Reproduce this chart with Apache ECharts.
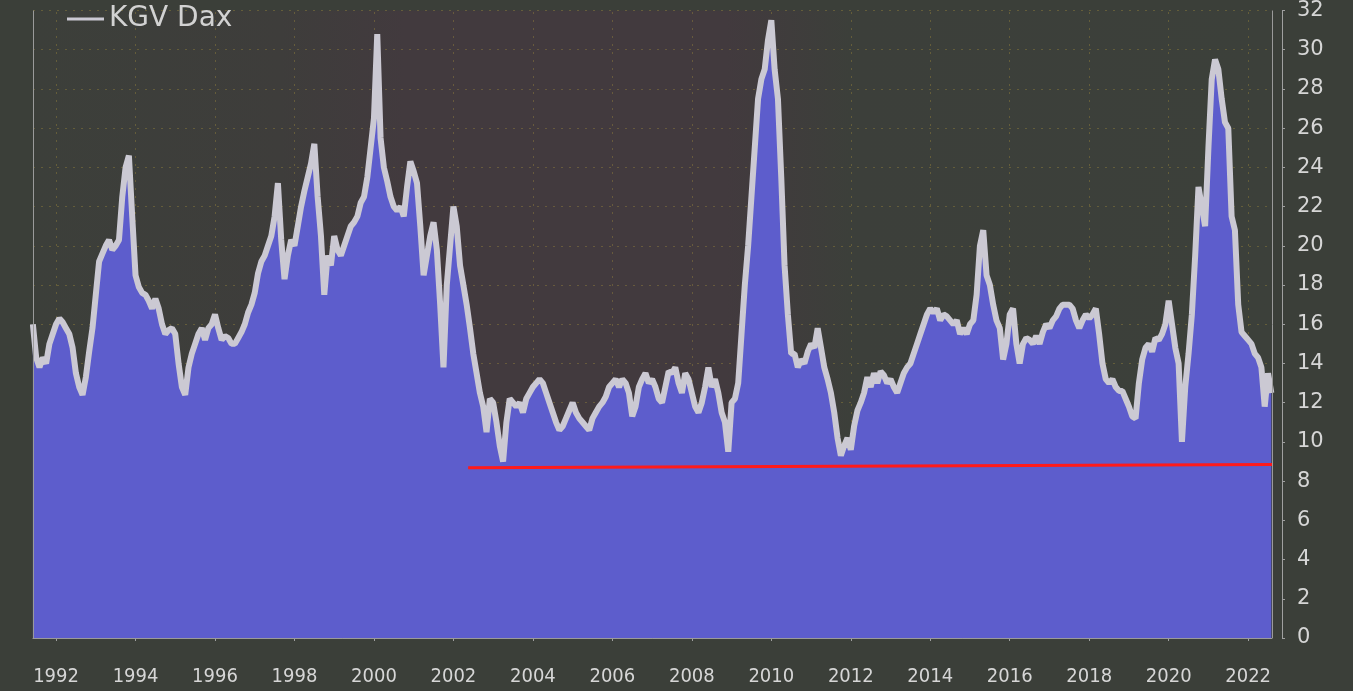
<!DOCTYPE html>
<html>
<head>
<meta charset="utf-8">
<script src="https://cdn.jsdelivr.net/npm/echarts@6/dist/echarts.min.js"></script>
<style>
html, body { margin: 0; padding: 0; background: #3b3f39; }
#chart { width: 1353px; height: 691px; }
</style>
</head>
<body>
<div id="chart"></div>
<script>
// KGV Dax, Monatswerte ab Juni 1991
var firstYear = 1991, firstMonth = 6;
var kgv = [
  16.0, 14.3, 13.8, 14.3, 14.0, 15.0, 15.5,                                 // 1991
  16.0, 16.3, 16.1, 15.8, 15.5, 14.8, 13.5, 12.8, 12.4, 13.3, 14.6, 15.8,  // 1992
  17.5, 19.2, 19.6, 20.0, 20.3, 19.8, 20.0, 20.3, 22.5, 24.0, 24.6, 21.5,  // 1993
  18.5, 17.9, 17.6, 17.5, 17.2, 16.8, 17.3, 16.8, 16.0, 15.5, 15.7, 15.8,  // 1994
  15.5, 14.0, 12.8, 12.4, 13.8, 14.5, 15.0, 15.5, 15.8, 15.2, 15.8, 16.0,  // 1995
  16.5, 15.8, 15.2, 15.4, 15.3, 15.0, 15.0, 15.3, 15.6, 16.0, 16.6, 17.0,  // 1996
  17.6, 18.6, 19.2, 19.5, 20.0, 20.5, 21.5, 23.2, 20.3, 18.3, 19.5, 20.3,  // 1997
  20.0, 21.0, 22.0, 22.8, 23.5, 24.2, 25.2, 22.5, 20.5, 17.5, 19.5, 19.0,  // 1998
  20.5, 19.8, 19.5, 20.0, 20.5, 21.0, 21.2, 21.5, 22.2, 22.5, 23.5, 25.0,  // 1999
  26.5, 30.8, 25.5, 24.0, 23.3, 22.5, 22.0, 21.8, 22.0, 21.5, 23.0, 24.3,  // 2000
  23.8, 23.2, 21.0, 18.5, 19.5, 20.5, 21.2, 19.8, 17.0, 13.8, 18.0, 20.0,  // 2001
  22.0, 21.0, 19.0, 18.0, 17.0, 15.8, 14.5, 13.5, 12.5, 11.8, 10.5, 12.2,  // 2002
  12.0, 11.0, 9.8, 9.0, 11.0, 12.2, 12.0, 11.8, 12.0, 11.5, 12.2, 12.5,    // 2003
  12.8, 13.0, 13.2, 13.0, 12.5, 12.0, 11.5, 11.0, 10.6, 10.8, 11.2, 11.6,  // 2004
  12.0, 11.5, 11.2, 11.0, 10.8, 10.6, 11.2, 11.5, 11.8, 12.0, 12.3, 12.8,  // 2005
  13.0, 13.2, 12.8, 13.2, 13.0, 12.5, 11.3, 11.8, 12.8, 13.2, 13.5, 13.0,  // 2006
  13.2, 12.8, 12.2, 12.0, 12.8, 13.6, 13.5, 13.8, 13.0, 12.5, 13.5, 13.2,  // 2007
  12.5, 11.8, 11.5, 12.0, 12.8, 13.8, 12.8, 13.2, 12.5, 11.5, 11.0, 9.5,   // 2008
  12.0, 12.2, 13.0, 15.5, 18.0, 20.0, 22.5, 25.0, 27.5, 28.5, 29.0, 30.5,  // 2009
  31.5, 29.0, 27.5, 23.5, 19.0, 16.5, 14.5, 14.5, 13.8, 14.2, 14.0, 14.6,  // 2010
  15.0, 14.8, 15.8, 14.8, 13.8, 13.2, 12.5, 11.5, 10.2, 9.3, 9.8, 10.2,    // 2011
  9.6, 10.8, 11.6, 12.0, 12.5, 13.3, 12.8, 13.5, 13.0, 13.6, 13.4, 13.0,   // 2012
  13.2, 12.8, 12.5, 13.0, 13.5, 13.8, 14.0, 14.5, 15.0, 15.5, 16.0, 16.5,  // 2013
  16.8, 16.6, 16.8, 16.2, 16.5, 16.4, 16.2, 16.0, 16.2, 15.5, 15.8, 15.5,  // 2014
  16.0, 16.2, 17.5, 20.0, 20.8, 18.5, 18.0, 17.0, 16.2, 15.8, 14.2, 15.0,  // 2015
  16.5, 16.8, 15.0, 14.0, 15.0, 15.3, 15.2, 15.0, 15.4, 15.0, 15.6, 16.0,  // 2016
  15.8, 16.2, 16.4, 16.8, 17.0, 17.0, 17.0, 16.8, 16.2, 15.8, 16.2, 16.5,  // 2017
  16.3, 16.5, 16.8, 15.5, 14.0, 13.2, 13.0, 13.2, 12.8, 12.6, 12.6, 12.2,  // 2018
  11.8, 11.3, 11.2, 13.0, 14.2, 14.8, 15.0, 14.6, 15.3, 15.2, 15.5, 16.0,  // 2019
  17.2, 16.0, 14.8, 14.0, 10.0, 12.8, 14.5, 16.5, 19.5, 23.0, 22.0, 21.0,  // 2020
  25.0, 28.5, 29.5, 29.0, 27.5, 26.3, 26.0, 21.5, 20.8, 17.0, 15.6, 15.4,  // 2021
  15.2, 15.0, 14.5, 14.3, 13.8, 11.8, 13.5, 12.5                           // 2022
];
var yearTicks = [1992, 1994, 1996, 1998, 2000, 2002, 2004, 2006, 2008, 2010, 2012, 2014, 2016, 2018, 2020, 2022];
// rote Unterstuetzungslinie [Jahr, KGV]
var supportLine = [[2002.37, 8.68], [2022.6, 8.85]];

var xMin = 1991.42, xMax = 2022.6, yMax = 32;

var points = kgv.map(function (v, i) {
  return [firstYear + (firstMonth - 1 + i) / 12, v];
});

var myChart = echarts.init(document.getElementById('chart'));

var gridDots = { type: [2, 6], color: 'rgba(160,140,60,0.4)', width: 1 };
var frame = { type: 'solid', color: '#9a9a9a', width: 1 };

var option = {
  animation: false,
  backgroundColor: '#3b3f39',
  textStyle: { fontFamily: 'DejaVu Sans' },
  legend: {
    left: 62, top: 0,
    icon: 'rect', itemWidth: 37, itemHeight: 3, itemGap: 10,
    textStyle: { color: '#d2d2d2', fontSize: 28 },
    data: ['KGV Dax']
  },
  grid: {
    left: 33, right: 81, top: 4, bottom: 53,
    show: true, borderWidth: 0,
    backgroundColor: new echarts.graphic.LinearGradient(0, 0, 1, 0, [
      { offset: 0, color: '#3c3f3a' },
      { offset: 0.2, color: '#3e3d3b' },
      { offset: 0.3, color: '#423a3e' },
      { offset: 0.56, color: '#423a3e' },
      { offset: 0.66, color: '#3c3f3a' },
      { offset: 1, color: '#3c403a' }
    ])
  },
  xAxis: {
    type: 'value', min: xMin, max: xMax, offset: 10,
    axisLine: { show: true, lineStyle: { color: '#a0a0a0', width: 1 } },
    axisTick: { show: true, customValues: yearTicks, length: 3, lineStyle: { color: '#a0a0a0' } },
    axisLabel: {
      customValues: yearTicks, formatter: function (v) { return String(v); },
      color: '#d6d6d6', fontSize: 20, margin: 19,
      fontFamily: 'DejaVu Sans Condensed, DejaVu Sans'
    },
    splitLine: { show: false }
  },
  yAxis: {
    type: 'value', position: 'right', min: 0, max: yMax, interval: 2, offset: 10,
    axisLine: { show: true, lineStyle: { color: '#a0a0a0', width: 1 } },
    axisTick: { show: true, length: 3, lineStyle: { color: '#a0a0a0' } },
    axisLabel: { color: '#d6d6d6', fontSize: 21, margin: 15, fontFamily: 'DejaVu Sans' },
    splitLine: { show: true, lineStyle: gridDots }
  },
  series: [
    {
      name: 'grid-x', type: 'line', data: [], z: 1, silent: true,
      markLine: {
        silent: true, symbol: 'none', z: 1,
        label: { show: false },
        lineStyle: gridDots,
        data: yearTicks.map(function (y) { return { xAxis: y }; })
      }
    },
    {
      name: 'KGV Dax', type: 'line', data: points, symbol: 'none', z: 3,
      lineStyle: { width: 6, color: '#cbc9d3' },
      itemStyle: { color: '#cbc9d3' },
      areaStyle: { color: '#5d5dcc', opacity: 1 },
      markLine: {
        silent: true, symbol: 'none',
        label: { show: false },
        lineStyle: { type: 'solid', color: '#ff1a1a', width: 3 },
        data: [[{ coord: supportLine[0] }, { coord: supportLine[1] }]]
      }
    },
    {
      // Rahmen links, rechts, unten (ohne obere Kante)
      name: 'frame', type: 'line', data: [], z: 4, silent: true,
      markLine: {
        silent: true, symbol: 'none', z: 4,
        label: { show: false },
        lineStyle: frame,
        data: [
          [{ coord: [xMin, 0] }, { coord: [xMin, yMax] }],
          [{ coord: [xMax, 0] }, { coord: [xMax, yMax] }],
          [{ coord: [xMin, 0] }, { coord: [xMax, 0] }]
        ]
      }
    }
  ]
};

myChart.setOption(option);
</script>
</body>
</html>
